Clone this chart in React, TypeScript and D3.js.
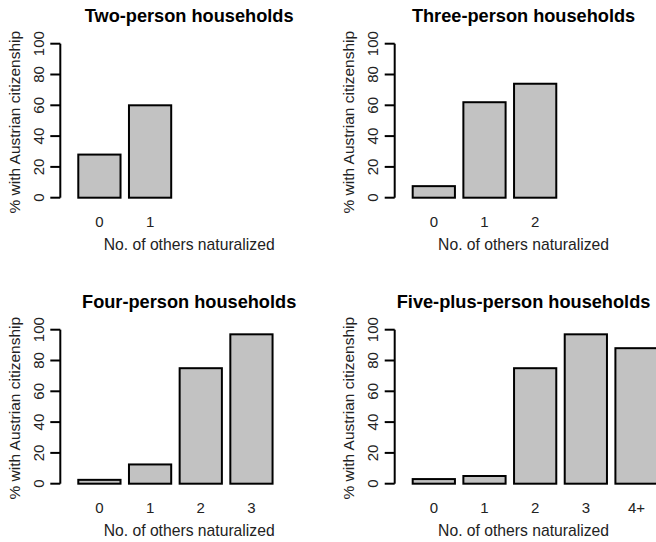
import React from "react";
import * as d3 from "d3";

const titles = [
  "Two-person households",
  "Three-person households",
  "Four-person households",
  "Five-plus-person households",
];
const categoriesTwo = ["0", "1"];
const valuesTwo = [28, 60];
const categoriesThree = ["0", "1", "2"];
const valuesThree = [7.5, 62, 74];
const categoriesFour = ["0", "1", "2", "3"];
const valuesFour = [2.5, 12.5, 75, 97];
const categoriesFive = ["0", "1", "2", "3", "4+"];
const valuesFive = [3, 5, 75, 97, 88];
const yTicks = [0, 20, 40, 60, 80, 100];
const yLabel = "% with Austrian citizenship";
const xLabel = "No. of others naturalized";

const panels = [
  { title: titles[0], cats: categoriesTwo, vals: valuesTwo },
  { title: titles[1], cats: categoriesThree, vals: valuesThree },
  { title: titles[2], cats: categoriesFour, vals: valuesFour },
  { title: titles[3], cats: categoriesFive, vals: valuesFive },
];

const FONT = "'Liberation Sans', Arial, Helvetica, sans-serif";
const XLIM: [number, number] = [0, 5.65];
const YLIM: [number, number] = [0, 100];

function Panel({ p, ox, oy }: { p: any; ox: number; oy: number }) {
  // plot region (R style, 4% axis extension)
  const left = ox + 60.3;
  const right = ox + 318;
  const y0 = oy + 197.7; // value 0
  const y100 = oy + 43.7; // value 100
  const xr = XLIM[1] - XLIM[0];
  const x = d3
    .scaleLinear()
    .domain([XLIM[0] - 0.04 * xr, XLIM[1] + 0.04 * xr])
    .range([left, right]);
  const y = d3.scaleLinear().domain(YLIM).range([y0, y100]);
  const cx = (left + right) / 2;
  const cy = (y(-4) + y(104)) / 2;
  return (
    <g>
      <text
        x={cx}
        y={oy + 22}
        textAnchor="middle"
        fontFamily={FONT}
        fontWeight="bold"
        fontSize={18.2}
        fill="#000"
      >
        {p.title}
      </text>
      {/* y axis */}
      <line x1={left} x2={left} y1={y(0)} y2={y(100)} stroke="#000" strokeWidth={2} />
      {yTicks.map((t) => (
        <g key={t}>
          <line x1={left - 10} x2={left} y1={y(t)} y2={y(t)} stroke="#000" strokeWidth={2} />
          <text
            transform={`translate(${left - 16.5},${y(t)}) rotate(-90)`}
            textAnchor="middle"
            fontFamily={FONT}
            fontSize={15}
            fill="#222"
          >
            {t}
          </text>
        </g>
      ))}
      <text
        transform={`translate(${ox + 20},${cy + 1.5}) rotate(-90)`}
        textAnchor="middle"
        fontFamily={FONT}
        fontSize={15.5}
        fill="#222"
      >
        {yLabel}
      </text>
      {p.vals.map((v: number, i: number) => {
        const a = x(i * 1.2 + 0.2);
        const b = x(i * 1.2 + 1.2);
        return (
          <g key={i}>
            <rect
              x={a}
              y={y(v)}
              width={b - a}
              height={y(0) - y(v)}
              fill="#c2c2c2"
              stroke="#000"
              strokeWidth={2}
            />
            <text
              x={(a + b) / 2}
              y={oy + 226.5}
              textAnchor="middle"
              fontFamily={FONT}
              fontSize={15}
              fill="#222"
            >
              {p.cats[i]}
            </text>
          </g>
        );
      })}
      <text
        x={cx}
        y={oy + 250}
        textAnchor="middle"
        fontFamily={FONT}
        fontSize={15.7}
        fill="#222"
      >
        {xLabel}
      </text>
    </g>
  );
}

export default function App() {
  const offsets = [
    [0, 0],
    [334.4, 0],
    [0, 286],
    [334.4, 286],
  ];
  return (
    <svg
      width={656}
      height={542}
      style={{ position: "absolute", left: 0, top: 0, background: "#fff" }}
    >
      <rect x={0} y={0} width={656} height={542} fill="#fff" />
      {panels.map((p, i) => (
        <Panel key={i} p={p} ox={offsets[i][0]} oy={offsets[i][1]} />
      ))}
    </svg>
  );
}
